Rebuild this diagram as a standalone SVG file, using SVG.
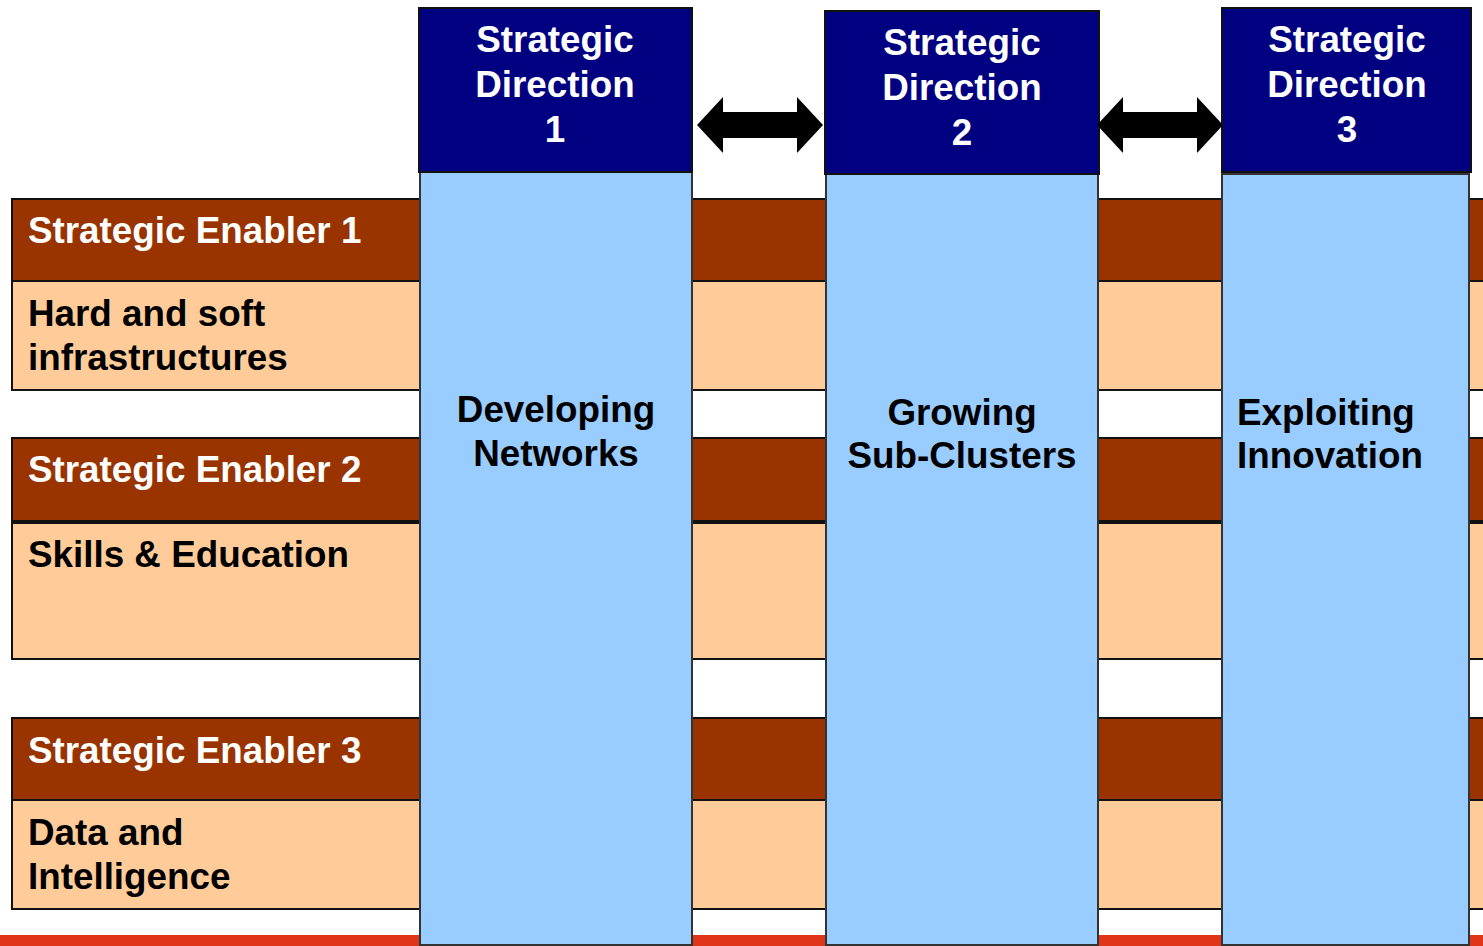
<svg xmlns="http://www.w3.org/2000/svg" width="1483" height="946" viewBox="0 0 1483 946">
<style>
.brown{fill:#993300;stroke:#111;stroke-width:2}
.peach{fill:#FFCC99;stroke:#111;stroke-width:2}
.head{fill:#000080;stroke:#111;stroke-width:2}
.body{fill:#99CCFF;stroke:#333;stroke-width:2}
.t{font-family:"Liberation Sans",Arial,sans-serif;font-weight:bold;font-size:36.8px}
.w{fill:#fff}
.k{fill:#000}
.arrow{fill:#000}
</style>
<rect x="0" y="0" width="1483" height="946" fill="#fff"/>
<rect x="0" y="935" width="1483" height="12" fill="#E03518"/>
<g id="enabler1">
<rect class="brown" x="12" y="199" width="1480" height="82"/>
<rect class="peach" x="12" y="281" width="1480" height="109"/>
<text class="t w" x="28" y="243">Strategic Enabler 1</text>
<text class="t k" x="28" y="326">Hard and soft</text>
<text class="t k" x="28" y="370">infrastructures</text>
</g>
<g id="enabler2">
<rect class="brown" x="12" y="438" width="1480" height="83"/>
<rect class="peach" x="12" y="523" width="1480" height="136"/>
<text class="t w" x="28" y="482">Strategic Enabler 2</text>
<text class="t k" x="28" y="567">Skills &amp; Education</text>
</g>
<g id="enabler3">
<rect class="brown" x="12" y="718" width="1480" height="82"/>
<rect class="peach" x="12" y="800" width="1480" height="109"/>
<text class="t w" x="28" y="763">Strategic Enabler 3</text>
<text class="t k" x="28" y="845">Data and</text>
<text class="t k" x="28" y="889">Intelligence</text>
</g>
<g id="direction1">
<rect class="body" x="420" y="172" width="272" height="773"/>
<rect class="head" x="419" y="8" width="273" height="164"/>
<text class="t w" text-anchor="middle" x="555" y="52">Strategic</text>
<text class="t w" text-anchor="middle" x="555" y="97">Direction</text>
<text class="t w" text-anchor="middle" x="555" y="142">1</text>
<text class="t k" text-anchor="middle" x="556" y="422">Developing</text>
<text class="t k" text-anchor="middle" x="556" y="466">Networks</text>
</g>
<g id="direction2">
<rect class="body" x="826" y="174" width="272" height="771"/>
<rect class="head" x="825" y="11" width="274" height="163"/>
<text class="t w" text-anchor="middle" x="962" y="55">Strategic</text>
<text class="t w" text-anchor="middle" x="962" y="100">Direction</text>
<text class="t w" text-anchor="middle" x="962" y="145">2</text>
<text class="t k" text-anchor="middle" x="962" y="425">Growing</text>
<text class="t k" text-anchor="middle" x="962" y="468">Sub-Clusters</text>
</g>
<g id="direction3">
<rect class="body" x="1222" y="174" width="247" height="771"/>
<rect class="head" x="1222" y="8" width="249" height="164"/>
<text class="t w" text-anchor="middle" x="1347" y="52">Strategic</text>
<text class="t w" text-anchor="middle" x="1347" y="97">Direction</text>
<text class="t w" text-anchor="middle" x="1347" y="142">3</text>
<text class="t k" x="1237" y="425">Exploiting</text>
<text class="t k" x="1237" y="468">Innovation</text>
</g>
<g id="connectors">
<polygon class="arrow" points="697,125 723,97 723,112 797,112 797,97 823,125 797,153 797,138 723,138 723,153"/>
<polygon class="arrow" points="1097,125 1123,97 1123,112 1197,112 1197,97 1223,125 1197,153 1197,138 1123,138 1123,153"/>
</g>
</svg>
